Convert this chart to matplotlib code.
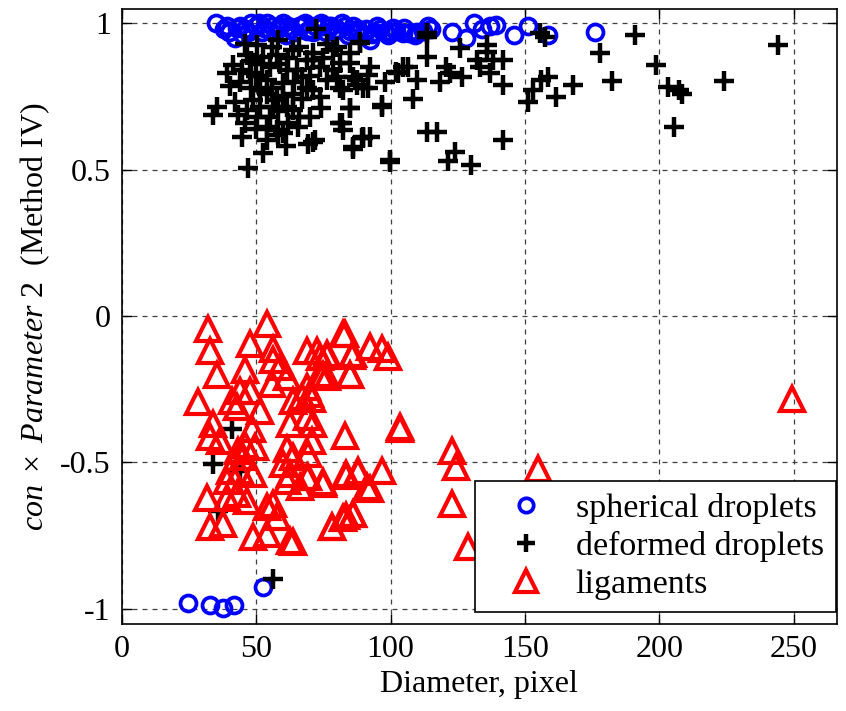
import numpy as np
import matplotlib
matplotlib.use("Agg")
import matplotlib.pyplot as plt

plt.rcParams['font.family'] = ['Liberation Serif', 'DejaVu Serif']
plt.rcParams['mathtext.fontset'] = 'custom'
plt.rcParams['mathtext.rm'] = 'Liberation Serif'
plt.rcParams['mathtext.it'] = 'Liberation Serif:italic'

# spherical droplets (blue circles)
sph_x = [35, 38, 40, 42, 44, 46, 48, 50, 52, 54, 56, 58, 60, 62, 64, 66, 68, 70, 72, 74,
         76, 78, 80, 82, 84, 86, 88, 90, 92.3, 94, 96, 98, 100, 104.7, 107, 110, 113.9, 115,
         122.7, 128, 131, 134, 137, 139.4, 145.8, 151.2, 158.4, 176,
         39, 43, 47, 51, 55, 59, 63, 67, 71, 75, 79, 83, 87, 91, 95, 99, 102, 105, 109, 112,
         45, 53, 61, 69, 77, 85, 93, 101,
         24.8, 32.8, 37.8, 41.7, 52.4]
sph_y = [1.0, 0.98, 0.97, 0.95, 0.99, 0.98, 1.0, 0.99, 0.97, 1.0, 0.99, 0.98, 1.0, 0.99, 0.97, 0.99, 1.0, 0.98, 0.99, 1.0,
         0.97, 0.99, 0.98, 1.0, 0.96, 0.99, 0.98, 0.96, 0.943, 0.97, 0.98, 0.97, 0.97, 0.966, 0.966, 0.97, 0.99, 0.98,
         0.97, 0.95, 1.0, 0.98, 0.99, 0.995, 0.96, 0.99, 0.96, 0.97,
         0.99, 0.985, 0.97, 1.0, 0.975, 0.99, 0.98, 0.995, 0.97, 0.99, 0.975, 0.99, 0.97, 0.98, 0.99, 0.96, 0.975,
         0.985, 0.96, 0.975,
         0.96, 0.985, 0.96, 0.975, 0.99, 0.975, 0.965, 0.985,
         -0.982, -0.987, -0.996, -0.987, -0.927]

# deformed droplets (black pluses)
def_x = [72.4, 88.6, 76.2, 113.4, 113.4, 155.5, 157.3, 190.8, 244.1, 177.8, 198.9,
         125.8, 135.7, 135.7, 132, 138.1, 141.9, 133.2, 136.9, 113.4, 92.3, 104.7, 102.2,
         120.8, 109.7, 118.3, 126.4, 122, 141.9, 97.9, 91.7, 108.4, 96.7, 156.1, 158.6,
         153, 151.2, 161.7, 167.7, 182.5, 203.2, 207.5, 208.5, 224, 205.4, 113.4, 117.1,
         141.9, 89.8, 92.3, 99.7, 121.4, 123.9, 130.1,
         50.2, 58.2, 41.5, 44.6, 46.5, 40.3, 35.3, 34.1, 43.4, 46.5, 45.8, 44.6, 52.6,
         47.1, 65.6, 69.4, 71.9, 81.8, 84.9, 86.1, 89.2, 73.7, 68.8, 81.2, 87.4, 63.8,
         78.7, 84.9, 88.6, 63.8, 68.8, 57.6, 55.1, 57.6, 60.1, 53.9, 51.4, 53.9, 60.1,
         61.3, 55.1, 52.6, 57.6, 61.3, 56.4, 51.4, 50.2, 76.2, 86.1, 91.7, 81.2, 66.9,
         71.2, 73.7, 48.9, 63.8, 47.7,
         78.7, 71.2, 84.9, 106.4, 102.7, 79.9, 87.4, 82.4, 89.8, 71.2, 84.9, 96.7, 81.2,
         82.4, 71.2, 86.1, 89.8, 99.7,
         48, 50, 54, 56, 59, 62, 65, 66, 60, 58, 62, 54, 50, 48, 44, 42, 39, 64, 67, 70,
         75, 80, 56, 52, 46, 70, 74, 66, 61, 58,
         34, 35.8, 56.3, 40.9, 44]
def_y = [0.98, 0.937, 0.93, 0.966, 0.954, 0.966, 0.954, 0.96, 0.926, 0.897, 0.857,
         0.914, 0.926, 0.903, 0.874, 0.874, 0.874, 0.852, 0.829, 0.886, 0.852, 0.852, 0.834,
         0.852, 0.806, 0.80, 0.817, 0.829, 0.789, 0.80, 0.778, 0.743, 0.715, 0.806, 0.817,
         0.772, 0.732, 0.749, 0.789, 0.804, 0.783, 0.772, 0.76, 0.804, 0.646, 0.629, 0.629,
         0.603, 0.612, 0.612, 0.527, 0.53, 0.561, 0.515,
         0.926, 0.943, 0.857, 0.84, 0.89, 0.785, 0.715, 0.686, 0.686, 0.703, 0.66, 0.612, 0.557,
         0.504, 0.646, 0.589, 0.60, 0.658, 0.709, 0.578, 0.607, 0.749, 0.778, 0.778, 0.789, 0.703,
         0.84, 0.897, 0.931, 0.909, 0.874, 0.738, 0.68, 0.635, 0.624, 0.646, 0.772, 0.806, 0.795,
         0.84, 0.852, 0.886, 0.89, 0.715, 0.715, 0.715, 0.68, 0.806, 0.817, 0.823, 0.863, 0.817,
         0.897, 0.852, 0.738, 0.76, 0.83,
         0.909, 0.874, 0.863, 0.852, 0.829, 0.817, 0.806, 0.772, 0.778, 0.772, 0.709, 0.72, 0.658,
         0.635, 0.595, 0.572, 0.607, 0.532,
         0.87, 0.82, 0.76, 0.78, 0.86, 0.88, 0.84, 0.92, 0.75, 0.70, 0.66, 0.60, 0.64, 0.78, 0.80,
         0.73, 0.83, 0.80, 0.74, 0.82, 0.88, 0.92, 0.92, 0.86, 0.93, 0.68, 0.71, 0.68, 0.58, 0.62,
         -0.504, -0.665, -0.898, -0.385, -0.53]

# ligaments (red triangles)
lig_x = [32.2, 32.9, 35.3, 28.5, 53.9, 47.7, 56.4, 45.8, 56.4, 58.8, 55.8, 61.3, 68.8,
         73.7, 76.2, 82.4, 86.1, 84.9, 73.7, 76.2, 44, 47.7, 40.9, 42.8, 51.4, 63.8, 67,
         70.6, 68.8, 68.8, 71.2, 62.6, 34.1, 32.9, 36.5, 48.3, 49.6, 45.8, 43.4, 45.2, 83,
         70.6, 61.3, 63.8, 60.1, 69.4, 40.3, 44, 39, 48.9, 62.6, 61.3, 68.8, 66.3, 74.9,
         83.6, 88, 91.1, 31.6, 39, 46.5, 42.8, 53.9, 56.4, 57.6, 32.9, 37.8, 48.9, 53.9,
         62.6, 78.1, 83.6, 86.1,
         83, 92.3, 96.7, 99.1, 85.5, 84.9, 103.4, 72.5, 76.2, 75, 70,
         122.7, 124.5, 122.7, 128.9, 83.6, 88, 96.7, 92.3, 78.1, 82.4, 86.1, 63.8, 75, 69.4,
         249.3, 103.5, 154.9]
lig_y = [-0.043, -0.118, -0.203, -0.295, -0.026, -0.095, -0.112, -0.186, -0.15, -0.175,
         -0.232, -0.209, -0.118, -0.14, -0.135, -0.06, -0.129, -0.203, -0.197, -0.209,
         -0.255, -0.255, -0.289, -0.312, -0.323, -0.289, -0.277, -0.283, -0.243, -0.346,
         -0.369, -0.369, -0.369, -0.414, -0.426, -0.386, -0.449, -0.44, -0.46, -0.483,
         -0.409, -0.426, -0.454, -0.483, -0.505, -0.471, -0.528, -0.528, -0.562, -0.54,
         -0.54, -0.562, -0.551, -0.585, -0.568, -0.54, -0.528, -0.585, -0.62, -0.62, -0.631,
         -0.608, -0.654, -0.642, -0.688, -0.722, -0.711, -0.756, -0.745, -0.768, -0.722,
         -0.682, -0.676,
         -0.06, -0.106, -0.112, -0.14, -0.135, -0.203, -0.386, -0.118, -0.13, -0.2, -0.266,
         -0.46, -0.517, -0.642, -0.79, -0.545, -0.534, -0.528, -0.59, -0.722, -0.69, -0.676,
         -0.773, -0.575, -0.55,
         -0.283, -0.38, -0.522]

fig = plt.figure(figsize=(8.46, 7.11), dpi=100)
ax = fig.add_axes([0.144, 0.122, 0.845, 0.865])

ax.plot(sph_x, sph_y, linestyle='none', marker='o', ms=11.5, mfc='none', mec='#0000ff',
        mew=2.7, label='spherical droplets')
ax.plot(def_x, def_y, linestyle='none', marker='+', ms=14, mec='black', mew=3.2,
        label='deformed droplets')
ax.plot(lig_x, lig_y, linestyle='none', marker='^', ms=17, mfc='none', mec='#ff0000',
        mew=3.0, label='ligaments')

ax.set_xlim(0, 266)
ax.set_ylim(-1.053, 1.048)
ax.set_xticks([0, 50, 100, 150, 200, 250])
ax.set_yticks([-1, -0.5, 0, 0.5, 1])
ax.set_yticklabels(['-1', '-0.5', '0', '0.5', '1'])
ax.grid(True, linestyle=(0, (4, 4)), color='#404040', linewidth=0.9)
ax.tick_params(direction='in', length=7, width=1, labelsize=23, top=True, right=True, pad=8)
for s in ax.spines.values():
    s.set_linewidth(1.2)

ax.set_xlabel('Diameter, pixel', fontsize=23, labelpad=4)
ax.set_ylabel(r'$con\ \times\ Parameter\ 2$  (Method IV)', fontsize=23, labelpad=6)

leg = ax.legend(loc='lower right', bbox_to_anchor=(0.9986, 0.0195), fontsize=24.5,
                numpoints=1, handlelength=2.3, handletextpad=0.3, borderpad=0.35,
                labelspacing=0.22, borderaxespad=0, fancybox=False, framealpha=1,
                edgecolor='black', markerscale=0.9)
leg.get_frame().set_linewidth(1.2)

fig.savefig('out.png', dpi=100)
